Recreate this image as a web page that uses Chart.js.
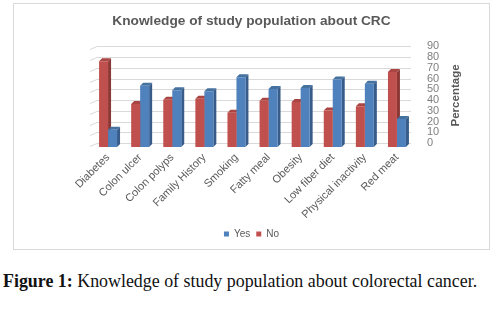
<!DOCTYPE html>
<html>
<head>
<meta charset="utf-8">
<script src="https://cdn.jsdelivr.net/npm/chart.js@4.4.1/dist/chart.umd.min.js"></script>
<style>
  body { margin: 0; background: #fff; width: 500px; height: 309px; position: relative; overflow: hidden; }
  #box { position: absolute; left: 13px; top: 3px; width: 477px; height: 247px; border: 1px solid #d9d9d9; box-sizing: border-box; }
  #caption { position: absolute; left: 3px; top: 271px; font-family: "Liberation Serif", serif; font-size: 17.9px; color: #111; white-space: nowrap; }
</style>
</head>
<body>
<div id="box"><canvas id="chart" width="475" height="245"></canvas></div>
<div id="caption"><b>Figure 1:</b> Knowledge of study population about colorectal cancer.</div>
<script>
const categories = ['Diabetes', 'Colon ulcer', 'Colon polyps', 'Family History', 'Smoking', 'Fatty meal', 'Obesity', 'Low fiber diet', 'Physical inactivity', 'Red meat'];
const noValues = [80, 40, 44, 45, 32, 43, 42, 34, 38, 70];
const yesValues = [16, 57, 53, 52, 65, 54, 55, 63, 59, 26];
const yMax = 90;
const yStep = 10;

const red = '#C0504D', redDark = '#8C3836', redTop = '#A94542';
const blue = '#4F81BD', blueDark = '#375C8A', blueTop = '#45719F';
const depth = 3;
const gridShiftY = 4;

// back wall grid + bar sides, drawn before the bar fronts
const fake3d = {
    id: 'fake3d',
    beforeDatasetsDraw(chart) {
        const ctx = chart.ctx;
        const area = chart.chartArea;
        const y = chart.scales.y;
        ctx.save();
        ctx.strokeStyle = '#d9d9d9';
        ctx.lineWidth = 1;
        y.ticks.forEach(t => {
            const yy = Math.round(y.getPixelForValue(t.value) - gridShiftY) + 0.5;
            ctx.beginPath();
            ctx.moveTo(area.left - 2, yy + 3);
            ctx.lineTo(area.left + 5, yy);
            ctx.lineTo(area.right - 2, yy);
            ctx.stroke();
        });
        chart.data.datasets.forEach((ds, i) => {
            const meta = chart.getDatasetMeta(i);
            meta.data.forEach(bar => {
                const l = bar.x - bar.width / 2, r = bar.x + bar.width / 2;
                ctx.fillStyle = ds.sideColor;
                ctx.beginPath();
                ctx.moveTo(r, bar.y);
                ctx.lineTo(r + depth, bar.y - depth);
                ctx.lineTo(r + depth, bar.base - depth);
                ctx.lineTo(r, bar.base);
                ctx.closePath();
                ctx.fill();
                ctx.fillStyle = ds.topColor;
                ctx.beginPath();
                ctx.moveTo(l, bar.y);
                ctx.lineTo(l + depth, bar.y - depth);
                ctx.lineTo(r + depth, bar.y - depth);
                ctx.lineTo(r, bar.y);
                ctx.closePath();
                ctx.fill();
            });
        });
        ctx.restore();
    },
    afterDraw(chart) {
        // axis title reads bottom to top
        const ctx = chart.ctx;
        const y = chart.scales.y;
        ctx.save();
        ctx.fillStyle = '#595959';
        ctx.font = 'bold 11.5px "Liberation Sans", sans-serif';
        ctx.textAlign = 'center';
        ctx.textBaseline = 'middle';
        ctx.translate(y.right - 33, chart.chartArea.top + 45);
        ctx.rotate(-Math.PI / 2);
        ctx.fillText('Percentage', 0, 0);
        ctx.restore();
    }
};

const chart = new Chart(document.getElementById('chart'), {
    type: 'bar',
    data: {
        labels: categories,
        datasets: [
            { label: 'No', data: noValues, backgroundColor: red, sideColor: redDark, topColor: redTop },
            { label: 'Yes', data: yesValues, backgroundColor: blue, sideColor: blueDark, topColor: blueTop }
        ]
    },
    options: {
        responsive: false,
        animation: false,
        layout: { padding: 0 },
        datasets: { bar: { categoryPercentage: 0.56, barPercentage: 1 } },
        plugins: {
            title: {
                display: true,
                text: 'Knowledge of study population about CRC',
                color: '#595959',
                font: { family: 'Liberation Sans', size: 13.7, weight: 'bold' },
                padding: { top: 9, bottom: 21 }
            },
            legend: {
                position: 'bottom',
                reverse: true,
                labels: {
                    boxWidth: 5, boxHeight: 5, padding: 6,
                    color: '#595959',
                    font: { family: 'Liberation Sans', size: 10 }
                }
            },
            tooltip: { enabled: false }
        },
        scales: {
            x: {
                grid: { display: false, drawTicks: false },
                border: { display: false },
                ticks: {
                    color: '#595959', font: { family: 'Liberation Sans', size: 11 },
                    minRotation: 45, maxRotation: 45, padding: 4
                },
                afterFit(scale) { scale.height = 76; scale.paddingLeft = 78; }
            },
            y: {
                position: 'right',
                min: 0, max: yMax,
                grid: { display: false, drawTicks: false },
                border: { display: false },
                ticks: {
                    stepSize: yStep, autoSkip: false, color: '#7f7f7f',
                    font: { family: 'Liberation Sans', size: 11 },
                    padding: 14, labelOffset: -gridShiftY
                },
                afterFit(scale) { scale.width = 76; }
            }
        }
    },
    plugins: [fake3d]
});
</script>
</body>
</html>
